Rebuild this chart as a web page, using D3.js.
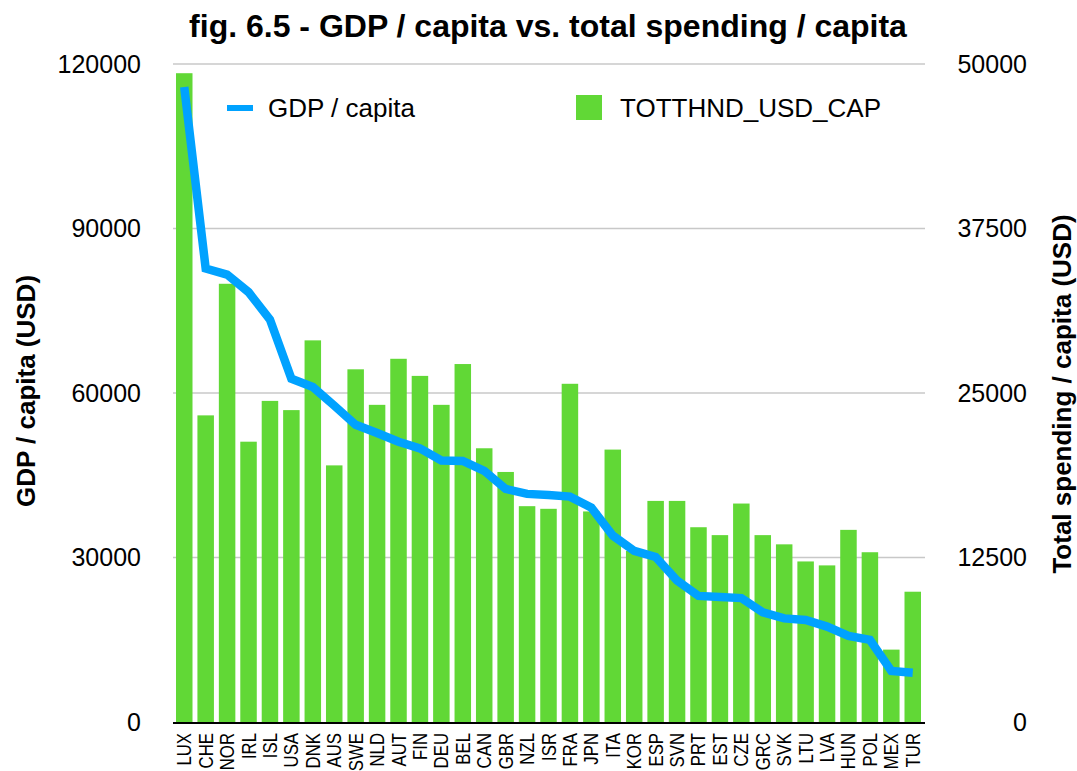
<!DOCTYPE html>
<html>
<head>
<meta charset="utf-8">
<script src="https://cdn.jsdelivr.net/npm/d3@7"></script>
<style>
    body { margin: 0; background: #fff; }
    text { font-family: "Liberation Sans", Arial, Helvetica, sans-serif; fill: #000; }
</style>
</head>
<body>
<div id="chart"></div>
<script>
// Country codes, sorted by GDP per capita
const countries = ["LUX", "CHE", "NOR", "IRL", "ISL", "USA", "DNK", "AUS", "SWE", "NLD",
    "AUT", "FIN", "DEU", "BEL", "CAN", "GBR", "NZL", "ISR", "FRA", "JPN", "ITA", "KOR",
    "ESP", "SVN", "PRT", "EST", "CZE", "GRC", "SVK", "LTU", "LVA", "HUN", "POL", "MEX", "TUR"];

// GDP / capita (left axis)
const gdpPerCapita = [115800, 82700, 81600, 78400, 73400, 62600, 61100, 57700, 54200, 52700,
    51100, 49900, 47700, 47600, 45800, 42500, 41600, 41400, 41100, 39100, 34000, 31200,
    30100, 25800, 23000, 22800, 22600, 20000, 18900, 18600, 17400, 15700, 15000, 9300, 9000];

// TOTTHND_USD_CAP - total spending / capita (right axis)
const spendingPerCapita = [49300, 23300, 33300, 21300, 24400, 23700, 29000, 19500, 26800, 24100,
    27600, 26300, 24100, 27200, 20800, 19000, 16400, 16200, 25700, 16000, 20700, 13000,
    16800, 16800, 14800, 14200, 16600, 14200, 13500, 12200, 11900, 14600, 12900, 5500, 9900];

const leftTicks = [0, 30000, 60000, 90000, 120000];
const rightTicks = [0, 12500, 25000, 37500, 50000];

const width = 1077;
const height = 771;
const plot = { left: 173, right: 924, top: 64, bottom: 722 };

const blue = "#00a2ff";
const green = "#61d836";

const svg = d3.select("#chart").append("svg")
    .attr("width", width)
    .attr("height", height);

// Scales
const x = d3.scaleBand()
    .domain(countries)
    .range([plot.left, plot.right])
    .paddingInner(0.23)
    .paddingOuter(0.14);

const yLeft = d3.scaleLinear().domain([0, 120000]).range([plot.bottom, plot.top]);
const yRight = d3.scaleLinear().domain([0, 50000]).range([plot.bottom, plot.top]);

// Gridlines
svg.append("g")
    .selectAll("line")
    .data(leftTicks.slice(1))
    .join("line")
    .attr("x1", plot.left)
    .attr("x2", plot.right + 1)
    .attr("y1", d => yLeft(d))
    .attr("y2", d => yLeft(d))
    .attr("stroke", "#c8c8c8")
    .attr("stroke-width", 1.5);

// Bars (right axis)
const bars = countries.map((c, i) => ({ country: c, value: spendingPerCapita[i] }));
svg.append("g")
    .selectAll("rect")
    .data(bars)
    .join("rect")
    .attr("x", d => x(d.country))
    .attr("y", d => yRight(d.value))
    .attr("width", x.bandwidth())
    .attr("height", d => plot.bottom - yRight(d.value))
    .attr("fill", green);

// Baseline
svg.append("line")
    .attr("x1", plot.left)
    .attr("x2", plot.right + 1)
    .attr("y1", plot.bottom + 1)
    .attr("y2", plot.bottom + 1)
    .attr("stroke", "#000")
    .attr("stroke-width", 2);

// GDP line (left axis)
const points = countries.map((c, i) => ({ country: c, value: gdpPerCapita[i] }));
svg.append("path")
    .datum(points)
    .attr("fill", "none")
    .attr("stroke", blue)
    .attr("stroke-width", 8.5)
    .attr("stroke-linejoin", "miter")
    .attr("d", d3.line()
        .x(d => x(d.country) + x.bandwidth() / 2)
        .y(d => yLeft(d.value)));

// Left axis tick labels
svg.append("g")
    .selectAll("text")
    .data(leftTicks)
    .join("text")
    .attr("x", 141)
    .attr("y", d => yLeft(d))
    .attr("dy", "0.35em")
    .attr("text-anchor", "end")
    .attr("font-size", "25px")
    .text(d => d);

// Right axis tick labels
svg.append("g")
    .selectAll("text")
    .data(rightTicks)
    .join("text")
    .attr("x", 1027)
    .attr("y", d => yRight(d))
    .attr("dy", "0.35em")
    .attr("text-anchor", "end")
    .attr("font-size", "25px")
    .text(d => d);

// Category labels, rotated and slightly condensed
svg.append("g")
    .selectAll("text")
    .data(countries)
    .join("text")
    .attr("transform", d => `translate(${x(d) + x.bandwidth() / 2 + 7}, 733) rotate(-90) scale(0.86, 1)`)
    .attr("text-anchor", "end")
    .attr("font-size", "19.5px")
    .text(d => d);

// Title
svg.append("text")
    .attr("x", 548)
    .attr("y", 37)
    .attr("text-anchor", "middle")
    .attr("font-size", "32px")
    .attr("font-weight", "bold")
    .text("fig. 6.5 - GDP / capita vs. total spending / capita");

// Axis titles
svg.append("text")
    .attr("transform", "translate(35, 391) rotate(-90)")
    .attr("text-anchor", "middle")
    .attr("font-size", "26px")
    .attr("font-weight", "bold")
    .text("GDP / capita (USD)");

svg.append("text")
    .attr("transform", "translate(1071, 394) rotate(-90)")
    .attr("text-anchor", "middle")
    .attr("font-size", "26px")
    .attr("font-weight", "bold")
    .text("Total spending / capita (USD)");

// Legend
svg.append("line")
    .attr("x1", 227)
    .attr("x2", 253)
    .attr("y1", 108)
    .attr("y2", 108)
    .attr("stroke", blue)
    .attr("stroke-width", 6);

svg.append("text")
    .attr("x", 268)
    .attr("y", 117)
    .attr("font-size", "26px")
    .text("GDP / capita");

svg.append("rect")
    .attr("x", 576)
    .attr("y", 95)
    .attr("width", 26)
    .attr("height", 25)
    .attr("fill", green);

svg.append("text")
    .attr("x", 620)
    .attr("y", 117)
    .attr("font-size", "26px")
    .text("TOTTHND_USD_CAP");
</script>
</body>
</html>
